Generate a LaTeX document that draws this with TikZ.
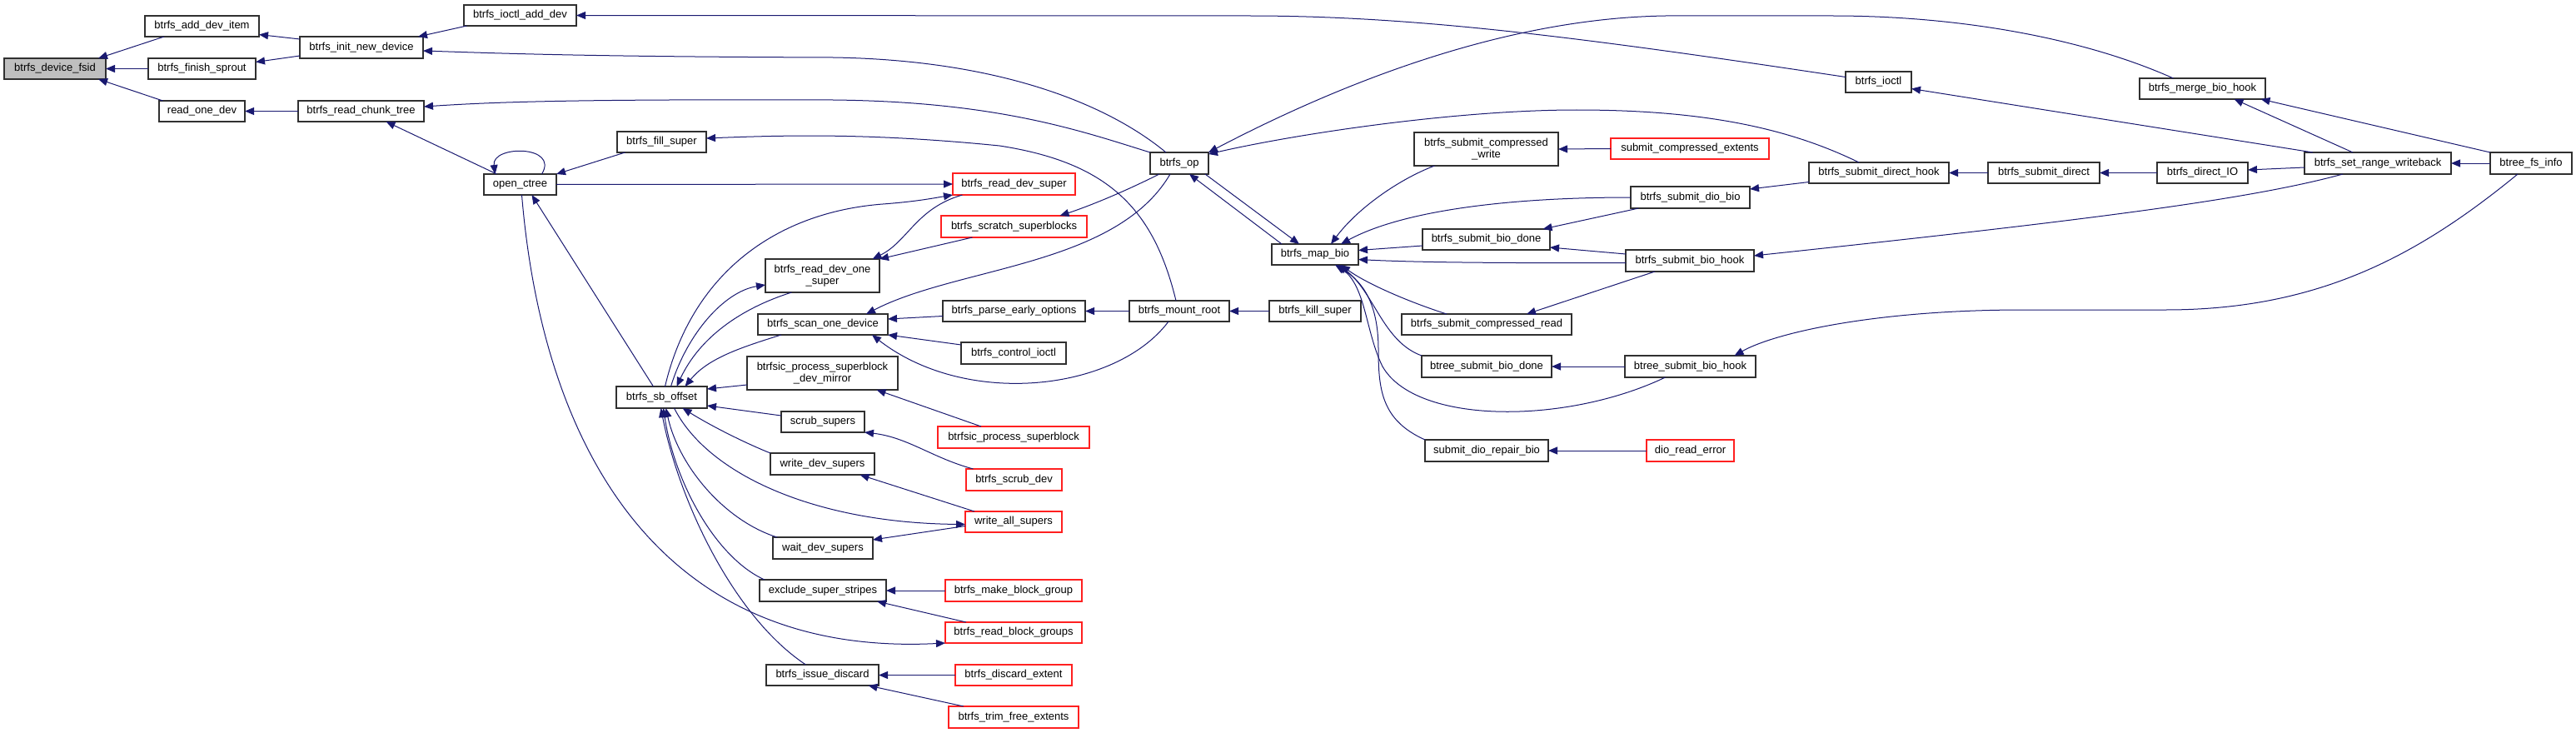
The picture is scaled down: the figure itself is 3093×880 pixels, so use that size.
\documentclass[tikz,border=0pt]{standalone}
\usepackage{fontspec}
\setmainfont{Liberation Sans}
\usetikzlibrary{arrows.meta}
\definecolor{edgeblue}{HTML}{191970}
\definecolor{boxgray}{HTML}{BFBFBF}
\definecolor{boxred}{HTML}{FF2020}
\definecolor{boxblack}{HTML}{303030}
\tikzset{
  fn/.style={draw=boxblack, line width=1.1pt, fill=white, inner sep=0pt, outer sep=0pt,
    font=\fontsize{13}{14.5}\selectfont, align=center},
  fnred/.style={fn, draw=boxred},
  call/.style={draw=edgeblue, line width=1pt, -{Triangle[length=11pt,width=9pt]}},
}
\begin{document}
\begin{tikzpicture}[x=1pt,y=-1pt]
\useasboundingbox (0,0) rectangle (3093,880);
% nodes
\node[fn, fill=boxgray, minimum width=122pt, minimum height=25pt] (n0) at (66,82.5) {btrfs\_device\_fsid};
\node[fn, minimum width=137pt, minimum height=25pt] (n1) at (242.5,31.5) {btrfs\_add\_dev\_item};
\node[fn, minimum width=129pt, minimum height=25pt] (n2) at (242.5,82.5) {btrfs\_finish\_sprout};
\node[fn, minimum width=103pt, minimum height=25pt] (n3) at (242.5,133.5) {read\_one\_dev};
\node[fn, minimum width=148pt, minimum height=26pt] (n4) at (434,57) {btrfs\_init\_new\_device};
\node[fn, minimum width=151pt, minimum height=25pt] (n5) at (433.5,133.5) {btrfs\_read\_chunk\_tree};
\node[fn, minimum width=135pt, minimum height=25pt] (n6) at (624.5,18.5) {btrfs\_ioctl\_add\_dev};
\node[fn, minimum width=107pt, minimum height=25pt] (n7) at (794.5,170.5) {btrfs\_fill\_super};
\node[fn, minimum width=87pt, minimum height=25pt] (n8) at (624.5,221.5) {open\_ctree};
\node[fn, minimum width=137pt, minimum height=40pt] (n9) at (987.5,331) {btrfs\_read\_dev\_one\\\_super};
\node[fn, minimum width=156pt, minimum height=25pt] (n10) at (988,389.5) {btrfs\_scan\_one\_device};
\node[fn, minimum width=181pt, minimum height=40pt] (n11) at (987.5,448) {btrfsic\_process\_superblock\\\_dev\_mirror};
\node[fn, minimum width=109pt, minimum height=26pt] (n12) at (794.5,477) {btrfs\_sb\_offset};
\node[fn, minimum width=100pt, minimum height=25pt] (n13) at (988,506.5) {scrub\_supers};
\node[fn, minimum width=125pt, minimum height=26pt] (n14) at (987.5,557) {write\_dev\_supers};
\node[fn, minimum width=120pt, minimum height=26pt] (n15) at (988,658) {wait\_dev\_supers};
\node[fn, minimum width=152pt, minimum height=26pt] (n16) at (988,709) {exclude\_super\_stripes};
\node[fn, minimum width=135pt, minimum height=25pt] (n17) at (987.5,810.5) {btrfs\_issue\_discard};
\node[fn, minimum width=70pt, minimum height=26pt] (n18) at (1416,196) {btrfs\_op};
\node[fnred, minimum width=147pt, minimum height=26pt] (n19) at (1217.5,221) {btrfs\_read\_dev\_super};
\node[fnred, minimum width=175pt, minimum height=26pt] (n20) at (1217.5,272) {btrfs\_scratch\_superblocks};
\node[fn, minimum width=171pt, minimum height=25pt] (n21) at (1217.5,373.5) {btrfs\_parse\_early\_options};
\node[fn, minimum width=120pt, minimum height=25pt] (n22) at (1416,373.5) {btrfs\_mount\_root};
\node[fn, minimum width=126pt, minimum height=26pt] (n23) at (1217,424) {btrfs\_control\_ioctl};
\node[fn, minimum width=110pt, minimum height=25pt] (n24) at (1579,373.5) {btrfs\_kill\_super};
\node[fn, minimum width=104pt, minimum height=25pt] (n25) at (1579,305.5) {btrfs\_map\_bio};
\node[fnred, minimum width=182pt, minimum height=26pt] (n26) at (1217,525) {btrfsic\_process\_superblock};
\node[fnred, minimum width=115pt, minimum height=26pt] (n27) at (1217.5,576) {btrfs\_scrub\_dev};
\node[fnred, minimum width=116pt, minimum height=25pt] (n28) at (1217,626.5) {write\_all\_supers};
\node[fnred, minimum width=164pt, minimum height=26pt] (n29) at (1217,709) {btrfs\_make\_block\_group};
\node[fnred, minimum width=164pt, minimum height=25pt] (n30) at (1217,759.5) {btrfs\_read\_block\_groups};
\node[fnred, minimum width=140pt, minimum height=25pt] (n31) at (1217,810.5) {btrfs\_discard\_extent};
\node[fnred, minimum width=156pt, minimum height=26pt] (n32) at (1217,861) {btrfs\_trim\_free\_extents};
\node[fn, minimum width=173pt, minimum height=40pt] (n33) at (1784.5,179) {btrfs\_submit\_compressed\\\_write};
\node[fnred, minimum width=190pt, minimum height=25pt] (n34) at (2029,178.5) {submit\_compressed\_extents};
\node[fn, minimum width=143pt, minimum height=26pt] (n35) at (2029.5,237) {btrfs\_submit\_dio\_bio};
\node[fn, minimum width=153pt, minimum height=25pt] (n36) at (1784.5,287.5) {btrfs\_submit\_bio\_done};
\node[fn, minimum width=154pt, minimum height=26pt] (n37) at (2029,313) {btrfs\_submit\_bio\_hook};
\node[fn, minimum width=204pt, minimum height=25pt] (n38) at (1785,389.5) {btrfs\_submit\_compressed\_read};
\node[fn, minimum width=156pt, minimum height=26pt] (n39) at (1785,440) {btree\_submit\_bio\_done};
\node[fn, minimum width=157pt, minimum height=26pt] (n40) at (2029.5,440) {btree\_submit\_bio\_hook};
\node[fn, minimum width=148pt, minimum height=26pt] (n41) at (1785,541) {submit\_dio\_repair\_bio};
\node[fnred, minimum width=105pt, minimum height=26pt] (n42) at (2029.5,541) {dio\_read\_error};
\node[fn, minimum width=79pt, minimum height=25pt] (n43) at (2255.5,98.5) {btrfs\_ioctl};
\node[fn, minimum width=168pt, minimum height=25pt] (n44) at (2256,207.5) {btrfs\_submit\_direct\_hook};
\node[fn, minimum width=134pt, minimum height=25pt] (n45) at (2454,207.5) {btrfs\_submit\_direct};
\node[fn, minimum width=151pt, minimum height=25pt] (n46) at (2644.5,106.5) {btrfs\_merge\_bio\_hook};
\node[fn, minimum width=109pt, minimum height=25pt] (n47) at (2644.5,207.5) {btrfs\_direct\_IO};
\node[fn, minimum width=176pt, minimum height=26pt] (n48) at (2855,196) {btrfs\_set\_range\_writeback};
\node[fn, minimum width=98pt, minimum height=26pt] (n49) at (3039,196) {btree\_fs\_info};
% edges
\draw[call] ([xshift=-45.5pt]n1.south) -- ([xshift=52pt]n0.north);
\draw[call] (n2.west) -- (n0.east);
\draw[call] ([xshift=-47pt]n3.north) -- ([xshift=52pt]n0.south);
\draw[call] ([yshift=10pt]n4.west) -- ([yshift=-10pt]n1.east);
\draw[call] ([yshift=-10pt]n4.west) -- ([yshift=8pt]n2.east);
\draw[call] (n5.west) -- (n3.east);
\draw[call] ([xshift=-64pt]n6.south) -- ([xshift=68pt]n4.north);
\draw[call] ([xshift=-16pt]n18.north) .. controls (1330,125) and (1200,72) .. (1000,69) .. controls (700,68) and (600,64) .. ([yshift=-4pt]n4.east);
\draw[call] (n18.north west) .. controls (1300,158) and (1200,122) .. (1000,120) .. controls (700,119) and (600,122) .. ([yshift=5.5pt]n5.east);
\draw[call] ([xshift=-4pt]n22.north) .. controls (1385,250) and (1330,195) .. (1200,175) .. controls (1050,160) and (950,162) .. ([yshift=4.5pt]n7.east);
\draw[call] ([xshift=-28pt]n8.north) -- ([xshift=30pt]n5.south);
\draw[call] ([xshift=26pt]n8.north) .. controls (672,174) and (590,174) .. ([xshift=-30pt]n8.north);
\draw[call] ([xshift=-44pt]n7.south) -- (n8.north east);
\draw[call] (n8.east) -- (n19.west);
\draw[call] ([xshift=-10pt]n12.north) -- ([xshift=14pt]n8.south);
\draw[call] ([xshift=2pt]n8.south) .. controls (650,520) and (780,790) .. (n30.south west);
\draw[call] ([xshift=-37pt]n9.south) .. controls (890,370) and (840,405) .. ([xshift=18pt]n12.north);
\draw[call] ([xshift=11pt]n12.north) .. controls (825,400) and (870,350) .. ([yshift=-11pt]n9.west);
\draw[call] ([xshift=4pt]n12.north) .. controls (830,330) and (930,255) .. (1060,245) .. controls (1100,242) and (1120,238) .. (n19.south west);
\draw[call] ([xshift=-50pt]n10.south) .. controls (890,417) and (850,430) .. ([xshift=28pt]n12.north);
\draw[call] ([yshift=-14pt]n11.west) -- ([yshift=10pt]n12.east);
\draw[call] ([yshift=7.5pt]n13.west) -- ([yshift=-10pt]n12.east);
\draw[call] (n14.north west) .. controls (895,532) and (855,512) .. ([xshift=25pt]n12.south);
\draw[call] ([xshift=-47pt]n28.north) -- ([xshift=45pt]n14.south);
\draw[call] ([yshift=-5pt]n28.west) -- ([yshift=10pt]n15.east);
\draw[call] ([xshift=15pt]n12.south) .. controls (850,570) and (980,628) .. ([yshift=-3pt]n28.west);
\draw[call] ([xshift=-55pt]n15.north) .. controls (870,625) and (815,560) .. ([xshift=5pt]n12.south);
\draw[call] ([xshift=-70pt]n16.north) .. controls (860,670) and (810,580) .. ([xshift=2pt]n12.south);
\draw[call] ([xshift=-20pt]n17.north) .. controls (880,740) and (815,600) .. ([xshift=-1pt]n12.south);
\draw[call] (n29.west) -- (n16.east);
\draw[call] ([xshift=-57pt]n30.north) -- ([xshift=65pt]n16.south);
\draw[call] (n31.west) -- (n17.east);
\draw[call] ([xshift=-60pt]n32.north) -- ([xshift=55pt]n17.south);
\draw[call] ([xshift=-39pt]n26.north) -- ([xshift=65pt]n11.south);
\draw[call] ([xshift=-49pt]n27.north) .. controls (1120,550) and (1090,525) .. (n13.south east);
\draw[call] ([xshift=-62pt]n19.south) .. controls (1100,250) and (1090,290) .. ([xshift=60pt]n9.north);
\draw[call] ([xshift=-50pt]n20.south) -- (n9.north east);
\draw[call] ([xshift=-24pt]n18.south) .. controls (1340,235) and (1300,250) .. ([xshift=55pt]n20.north);
\draw[call] ([xshift=-11pt]n18.south) .. controls (1340,320) and (1150,320) .. ([xshift=52pt]n10.north);
\draw[call] ([yshift=-6pt]n21.west) -- ([yshift=6.5pt]n10.east);
\draw[call] ([yshift=10pt]n23.west) -- (n10.south east);
\draw[call] ([xshift=-13pt]n22.south) .. controls (1340,470) and (1160,490) .. ([xshift=59pt]n10.south);
\draw[call] (n22.west) -- (n21.east);
\draw[call] (n24.west) -- (n22.east);
\draw[call] ([xshift=31pt]n18.south) -- ([xshift=-19pt]n25.north);
\draw[call] ([xshift=-40pt]n25.north) -- ([xshift=12pt]n18.south);
\draw[call] ([xshift=-35pt]n46.north) .. controls (2500,45) and (2350,19) .. (2200,19) -- (2000,19) .. controls (1800,22) and (1600,105) .. (n18.north east);
\draw[call] ([xshift=-24pt]n44.north) .. controls (2150,155) and (2050,132) .. (1893,132) .. controls (1750,132) and (1560,160) .. ([yshift=11pt]n18.east);
\draw[call] ([yshift=6pt]n43.west) .. controls (1900,45) and (1700,19) .. (1500,19) -- (n6.east);
\draw[call] ([xshift=-78pt]n48.north) -- ([yshift=-8pt]n43.east);
\draw[call] ([xshift=-30pt]n48.north) -- ([xshift=38pt]n46.south);
\draw[call] (n49.north west) -- ([xshift=70pt]n46.south);
\draw[call] (n49.west) -- (n48.east);
\draw[call] ([yshift=-5pt]n48.west) -- ([yshift=3.5pt]n47.east);
\draw[call] (n47.west) -- (n45.east);
\draw[call] (n45.west) -- (n44.east);
\draw[call] ([yshift=-11pt]n44.west) -- ([yshift=10pt]n35.east);
\draw[call] ([xshift=-42pt]n48.south) .. controls (2700,240) and (2500,265) .. ([yshift=6pt]n37.east);
\draw[call] ([xshift=-16pt]n49.south) .. controls (2900,310) and (2780,372) .. (2600,372) -- (2430,372) .. controls (2250,372) and (2130,400) .. ([xshift=53pt]n40.north);
\draw[call] (n34.west) -- (n33.east);
\draw[call] ([xshift=-62pt]n33.south) .. controls (1680,215) and (1630,250) .. ([xshift=19pt]n25.north);
\draw[call] (n35.west) .. controls (1800,237) and (1680,255) .. ([xshift=31pt]n25.north);
\draw[call] ([xshift=-62pt]n35.south) -- ([xshift=68pt]n36.north);
\draw[call] ([yshift=-7.5pt]n36.west) -- ([yshift=5pt]n25.east);
\draw[call] ([yshift=8pt]n37.west) -- ([yshift=-9.5pt]n36.east);
\draw[call] ([yshift=-2.5pt]n37.west) .. controls (1800,316) and (1700,315) .. ([yshift=-6pt]n25.east);
\draw[call] ([xshift=-42pt]n37.south) -- ([xshift=48pt]n38.north);
\draw[call] ([xshift=-48pt]n38.north) .. controls (1690,362) and (1640,340) .. ([xshift=31pt]n25.south);
\draw[call] (n39.north west) .. controls (1660,410) and (1650,350) .. ([xshift=28pt]n25.south);
\draw[call] (n40.west) -- (n39.east);
\draw[call] ([xshift=-30pt]n40.south) .. controls (1880,510) and (1700,510) .. (1660,440) .. controls (1640,400) and (1640,345) .. ([xshift=26pt]n25.south);
\draw[call] (n41.north west) .. controls (1660,505) and (1655,470) .. (1655,420) .. controls (1655,370) and (1640,340) .. ([xshift=24pt]n25.south);
\draw[call] (n42.west) -- (n41.east);
\end{tikzpicture}
\end{document}
